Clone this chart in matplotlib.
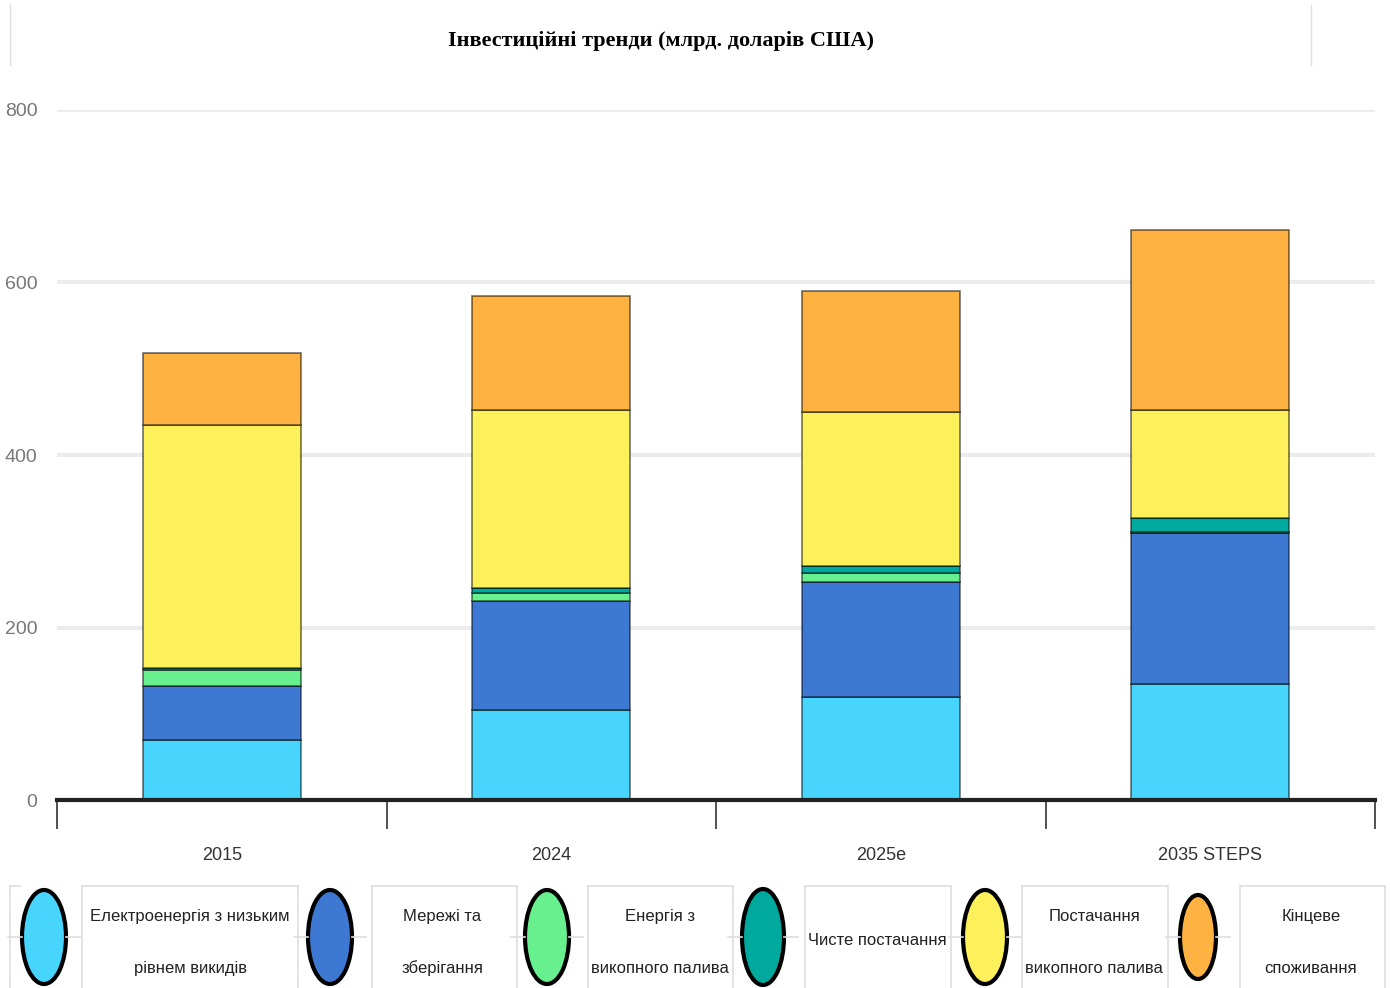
import matplotlib.pyplot as plt
from matplotlib import font_manager
from matplotlib.patches import Ellipse
import numpy as np

# data (млрд. доларів США)
years = ['2015', '2024', '2025e', '2035 STEPS']
series_names = ['Електроенергія з низьким\nрівнем викидів', 'Мережі та\nзберігання',
                'Енергія з\nвикопного палива', 'Чисте постачання',
                'Постачання\nвикопного палива', 'Кінцеве\nспоживання']
low_emission = [70, 104, 119, 134]
grids_storage = [62, 127, 134, 176]
fossil_energy = [19, 9, 10, 1]
clean_supply = [2, 6, 8, 16]
fossil_supply = [282, 206, 179, 125]
end_use = [83, 132, 140, 209]
y_ticks = [0, 200, 400, 600, 800]

colors = ['#47D4FD', '#3D78D3', '#68F08E', '#00A99D', '#FDF15B', '#FDB241']
series = [low_emission, grids_storage, fossil_energy, clean_supply, fossil_supply, end_use]

# pick a narrow font if there is one
names = {f.name for f in font_manager.fontManager.ttflist}
narrow = 'Liberation Sans Narrow' if 'Liberation Sans Narrow' in names else 'Liberation Sans'

fig = plt.figure(figsize=(13.9, 9.88), dpi=100)
ax = fig.add_axes([57 / 1390, 1 - 800 / 988, 1318 / 1390, 690 / 988])

x = np.arange(len(years))
bottom = np.zeros(len(years))
for vals, col in zip(series, colors):
    ax.bar(x, vals, width=0.48, bottom=bottom, color=col,
           edgecolor=(0, 0, 0, 0.55), linewidth=1.2, zorder=3)
    bottom += np.array(vals)

ax.set_xlim(-0.5, 3.5)
ax.set_ylim(0, 800)
ax.set_yticks(y_ticks)
ax.set_yticklabels([str(v) for v in y_ticks], color='#777777', fontsize=14,
                   family=narrow)
ax.tick_params(axis='y', length=0, pad=14)
ax.set_xticks(x)
ax.set_xticklabels(years, color='#333333', fontsize=13, family=narrow)
ax.set_xticks(np.arange(-0.5, 4, 1), minor=True)
ax.tick_params(axis='x', which='major', length=0, pad=34)
ax.tick_params(axis='x', which='minor', length=21, width=1.2, color='#333333')
ax.yaxis.grid(True, color='#ececec', linewidth=3, zorder=0)
for s in ['top', 'right', 'left']:
    ax.spines[s].set_visible(False)
ax.spines['bottom'].set_linewidth(3)
ax.spines['bottom'].set_color('#222222')
ax.spines['bottom'].set_zorder(5)

fig.text(661 / 1390, 1 - 41 / 988, 'Інвестиційні тренди (млрд. доларів США)',
         ha='center', va='center', fontsize=16, fontweight='bold',
         family='Liberation Serif')

# legend drawn in pixel space
lg = fig.add_axes([0, 0, 1, 118 / 988])
lg.set_xlim(0, 1390)
lg.set_ylim(988, 870)
lg.axis('off')

grey = '#dedede'
ell_x = [44, 330, 547, 763, 985, 1198]
ell_w = [44, 44, 44, 42, 44, 36]
ell_h = [94, 94, 94, 96, 94, 84]
txt_x = [190, 442, 660, 877, 1094, 1311]
cells = [(82, 298), (372, 517), (588, 733), (805, 951), (1022, 1168), (1240, 1385)]

for (a, b) in cells:
    lg.plot([a, b], [886, 886], color=grey, lw=1.2)
    lg.plot([a, a], [886, 988], color=grey, lw=1.2)
    lg.plot([b, b], [886, 988], color=grey, lw=1.2)
lg.plot([10, 20], [886, 886], color=grey, lw=1.2)
lg.plot([10, 10], [886, 988], color=grey, lw=1.2)
for ex, ew in zip(ell_x, ell_w):
    lg.plot([ex - ew / 2 - 14, ex - ew / 2], [937, 937], color=grey, lw=1.2)
    lg.plot([ex + ew / 2, ex + ew / 2 + 14], [937, 937], color=grey, lw=1.2)

for ex, ew, eh, col in zip(ell_x, ell_w, ell_h, colors):
    lg.add_patch(Ellipse((ex, 937), ew, eh, facecolor=col, edgecolor='black', lw=3))

for tx, name in zip(txt_x, series_names):
    lines = name.split('\n')
    if len(lines) == 1:
        lg.text(tx, 940, lines[0], ha='center', va='center', fontsize=12,
                family=narrow, color='#222222')
    else:
        lg.text(tx, 916, lines[0], ha='center', va='center', fontsize=12,
                family=narrow, color='#222222')
        lg.text(tx, 968, lines[1], ha='center', va='center', fontsize=12,
                family=narrow, color='#222222')

# faint frame lines around the title area
fig.add_artist(plt.Line2D([10 / 1390, 10 / 1390], [1 - 5 / 988, 1 - 65 / 988], color=grey, lw=1))
fig.add_artist(plt.Line2D([1311 / 1390, 1311 / 1390], [1 - 5 / 988, 1 - 65 / 988], color=grey, lw=1))

fig.savefig('out.png', dpi=100)
